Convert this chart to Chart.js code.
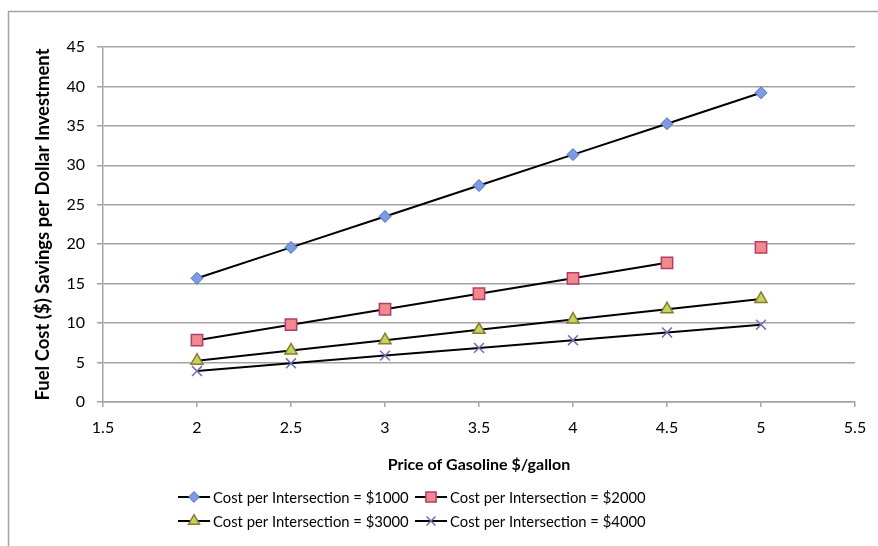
<!DOCTYPE html>
<html><head><meta charset="utf-8">
<script src="https://cdn.jsdelivr.net/npm/chart.js@4.4.1/dist/chart.umd.min.js"></script>
<style>html,body{margin:0;padding:0;background:#fff}#wrap{width:878px;height:546px;position:relative}</style>
</head><body><div id="wrap"><canvas id="c" width="878" height="546"></canvas></div>
<script>
const gasPrices = [2, 2.5, 3, 3.5, 4, 4.5, 5];
const seriesNames = ["Cost per Intersection = $1000", "Cost per Intersection = $2000", "Cost per Intersection = $3000", "Cost per Intersection = $4000"];
const cost1000 = [15.68, 19.6, 23.52, 27.44, 31.36, 35.28, 39.2];
const cost2000 = [7.84, 9.8, 11.76, 13.72, 15.68, 17.64, 19.6];
const cost3000 = [5.23, 6.53, 7.84, 9.15, 10.45, 11.76, 13.07];
const cost4000 = [3.92, 4.9, 5.88, 6.86, 7.84, 8.82, 9.8];
const xTickValues = [1.5, 2, 2.5, 3, 3.5, 4, 4.5, 5, 5.5];
const yTickValues = [0, 5, 10, 15, 20, 25, 30, 35, 40, 45];
const xTitle = "Price of Gasoline $/gallon";
const yTitle = "Fuel Cost ($) Savings per Dollar Investment";

const FONT = "Lato, 'Open Sans', sans-serif";
const styles = [
  {pointStyle: 'rectRot', radius: 6, bg: '#7d9be3', border: '#4d6fc4', bw: 1},
  {pointStyle: 'rect', radius: 8, bg: '#f08a8c', border: '#b23c6c', bw: 1.5},
  {pointStyle: 'triangle', radius: 7, bg: '#b8d862', border: '#94752e', bw: 1.5},
  {pointStyle: 'crossRot', radius: 7, bg: '#6f6fb2', border: '#6f6fb2', bw: 1.5}
];
const seriesValues = [cost1000, cost2000, cost3000, cost4000];

const datasets = seriesValues.map((vals, i) => ({
  label: seriesNames[i],
  data: gasPrices.map((x, j) => ({x: x, y: vals[j]})),
  showLine: true,
  borderColor: '#000',
  borderWidth: 2,
  pointStyle: styles[i].pointStyle,
  pointRadius: styles[i].radius,
  pointBackgroundColor: styles[i].bg,
  pointBorderColor: styles[i].border,
  pointBorderWidth: styles[i].bw,
  order: 4 - i,
  segment: i === 1 ? {borderColor: ctx => ctx.p1DataIndex === gasPrices.length - 1 ? 'rgba(0,0,0,0)' : '#000'} : undefined
}));

const frame = {
  id: 'frame',
  beforeDraw(chart) {
    const ctx = chart.ctx;
    ctx.save();
    ctx.fillStyle = '#fff';
    ctx.fillRect(0, 0, chart.width, chart.height);
    ctx.strokeStyle = '#a3a3a3';
    ctx.lineWidth = 1.5;
    ctx.beginPath();
    ctx.moveTo(8.5, chart.height);
    ctx.lineTo(8.5, 11.5);
    ctx.lineTo(chart.width, 11.5);
    ctx.stroke();
    ctx.restore();
  }
};

const legendPlugin = {
  id: 'customLegend',
  afterDraw(chart) {
    const ctx = chart.ctx;
    const rowsY = [497, 521];
    const colsX = [178, 415];
    ctx.save();
    ctx.font = "14.8px " + FONT;
    ctx.textBaseline = 'middle';
    ctx.textAlign = 'left';
    seriesNames.forEach((name, i) => {
      const x = colsX[i % 2], y = rowsY[Math.floor(i / 2)];
      ctx.strokeStyle = '#000';
      ctx.lineWidth = 2;
      ctx.beginPath(); ctx.moveTo(x, y); ctx.lineTo(x + 32, y); ctx.stroke();
      const s = styles[i];
      ctx.fillStyle = s.bg; ctx.strokeStyle = s.border; ctx.lineWidth = s.bw;
      Chart.helpers.drawPoint(ctx, {pointStyle: s.pointStyle, radius: s.radius * 0.9, rotation: 0, borderWidth: s.bw}, x + 16, y);
      ctx.fillStyle = '#000';
      ctx.fillText(name, x + 35, y + 1);
    });
    ctx.restore();
  }
};

new Chart(document.getElementById('c'), {
  type: 'scatter',
  data: {datasets},
  plugins: [frame, legendPlugin],
  options: {
    responsive: false,
    animation: false,
    devicePixelRatio: 1,
    layout: {padding: {left: 10, top: 47, right: 23, bottom: 70}},
    plugins: {legend: {display: false}, tooltip: {enabled: false}},
    scales: {
      x: {
        type: 'linear', min: 1.5, max: 5.5,
        afterBuildTicks: axis => { axis.ticks = xTickValues.map(v => ({value: v})); },
        afterFit: axis => { axis.height = 74; },
        ticks: {color: '#000', font: {family: FONT, size: 16}, padding: 11, maxRotation: 0,
          callback: v => String(v)},
        grid: {drawOnChartArea: false, drawTicks: true, tickLength: 5, color: '#a3a3a3', lineWidth: 1.5},
        border: {color: '#a3a3a3', width: 1.5},
        title: {display: true, text: xTitle, color: '#000', font: {family: FONT, size: 16, weight: 'bold'}, padding: {top: 4, bottom: 2}}
      },
      y: {
        type: 'linear', min: 0, max: 45,
        afterBuildTicks: axis => { axis.ticks = yTickValues.map(v => ({value: v})); },
        afterFit: axis => { axis.width = 93; },
        ticks: {color: '#000', font: {family: FONT, size: 16}, padding: 12, callback: v => String(v)},
        grid: {color: '#a3a3a3', lineWidth: 1.5, tickLength: 6},
        border: {color: '#a3a3a3', width: 1.5},
        title: {display: true, text: yTitle, color: '#000', font: {family: FONT, size: 18.5, weight: 'bold'}, padding: {top: 22, bottom: 0}}
      }
    }
  }
});
</script></body></html>
